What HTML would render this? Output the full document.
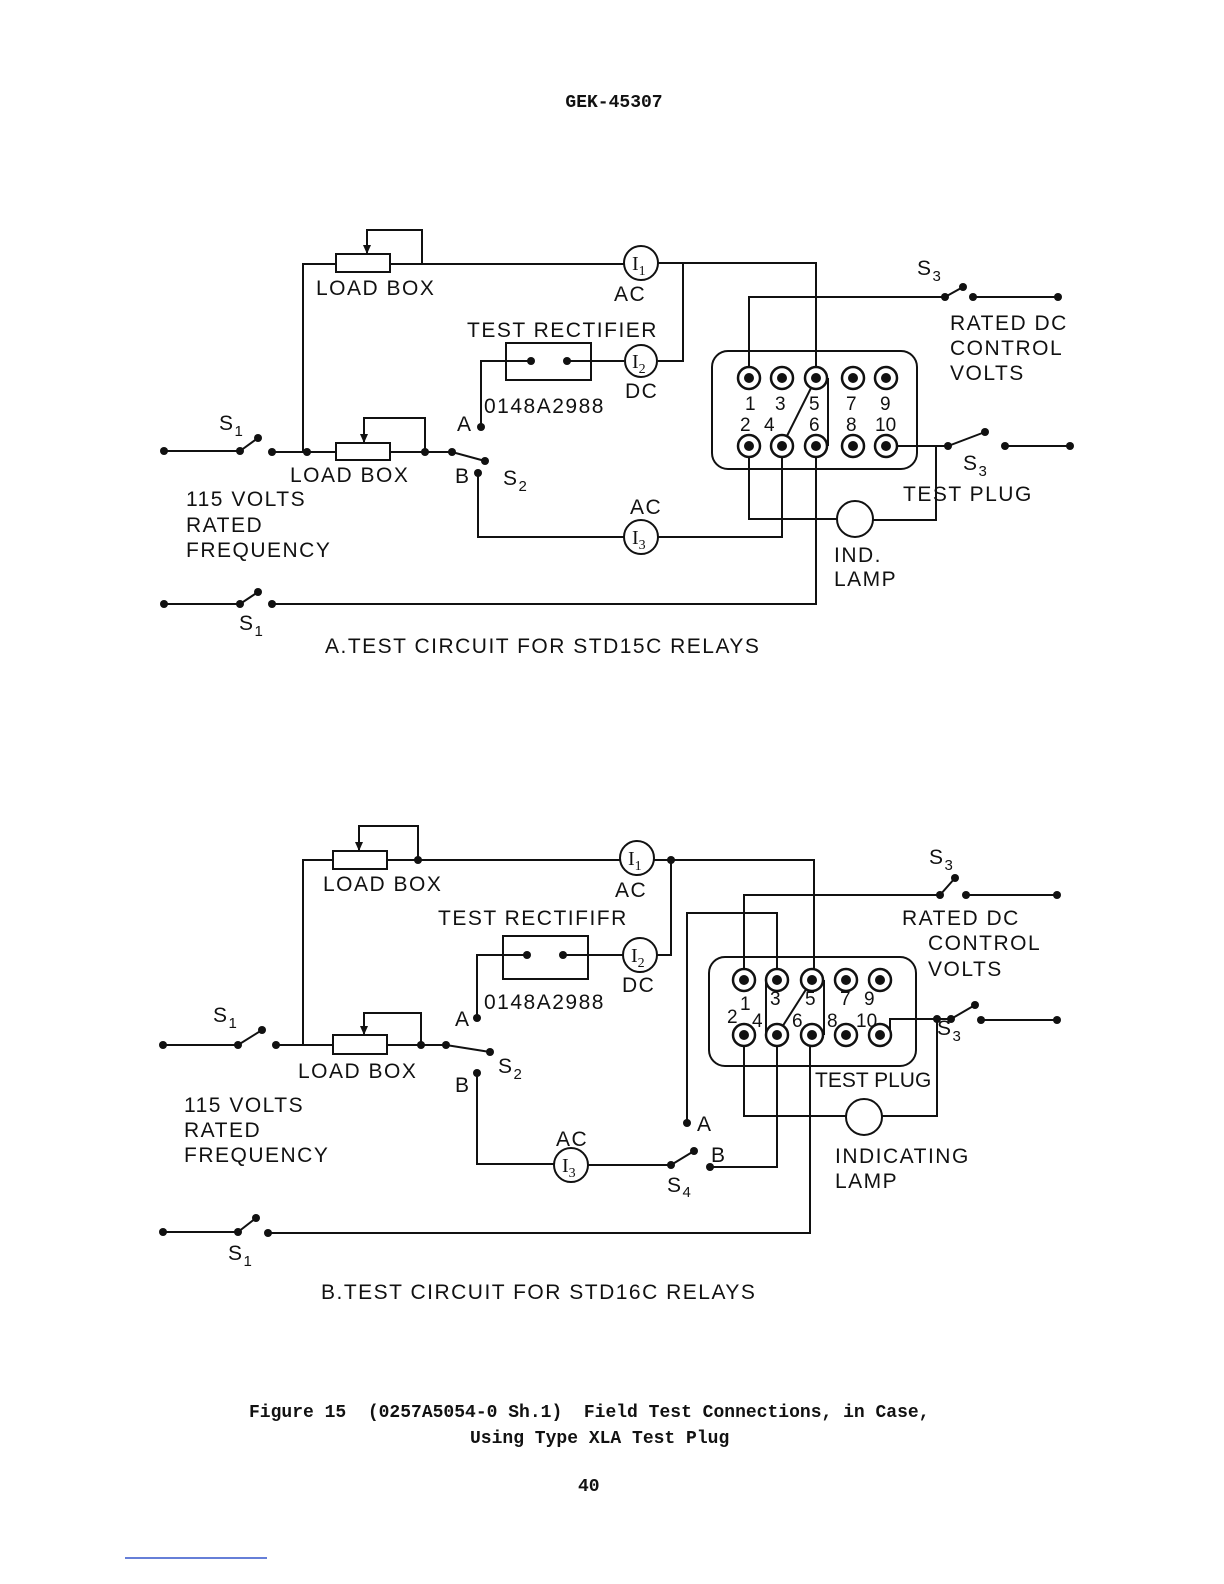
<!DOCTYPE html>
<html><head><meta charset="utf-8"><style>
body{margin:0;background:#fff}
svg{display:block}
text{font-family:"Liberation Sans",sans-serif;fill:#111}
.t{font-size:21px;letter-spacing:1.5px}
.n{font-size:19px}
.m{font-family:"Liberation Mono",monospace;font-size:18px;font-weight:bold;white-space:pre}
</style></head><body>
<svg width="1224" height="1584" viewBox="0 0 1224 1584" xmlns="http://www.w3.org/2000/svg">
<g stroke="#111" stroke-width="2" fill="none">
<polyline points="303,452 303,264 336,264"/><rect x="336" y="254" width="54" height="18"/>
<polyline points="390,264 624,264"/><polyline points="367,254 367,230 422,230 422,264"/>
<circle cx="641" cy="263" r="17"/>
<polyline points="658,263 816,263 816,378"/>
<polyline points="683,263 683,361 658,361"/>
<circle cx="641" cy="361" r="16"/>
<polyline points="624,361 567,361"/>
<rect x="506" y="343" width="85" height="37"/>
<polyline points="531,361 481,361 481,427"/>
<polyline points="164,451 240,451 258,438"/>
<polyline points="272,452 336,452"/><rect x="336" y="443" width="54" height="17"/>
<polyline points="390,452 452,452 485,461"/>
<polyline points="364,443 364,418 425,418 425,452"/>
<polyline points="478,473 478,537 624,537"/>
<circle cx="641" cy="537" r="17"/>
<polyline points="658,537 782,537 782,446"/>
<polyline points="164,604 240,604 258,592"/>
<polyline points="272,604 816,604 816,446"/>
<rect x="712" y="351" width="205" height="118" rx="16"/>
<polyline points="749,378 749,297 945,297 963,287"/>
<polyline points="973,297 1058,297"/>
<polyline points="886,446 948,446 985,432"/>
<polyline points="1005,446 1070,446"/>
<polyline points="936,446 936,520 873,520"/>
<circle cx="855" cy="519" r="18"/>
<polyline points="837,519 749,519 749,446"/>
<line x1="782" y1="446" x2="816" y2="378"/>
<line x1="828" y1="378" x2="828" y2="446"/>
<polyline points="303,1045 303,860 333,860"/><rect x="333" y="851" width="54" height="18"/>
<polyline points="387,860 620,860"/><polyline points="359,851 359,826 418,826 418,860"/>
<circle cx="637" cy="858" r="17"/>
<polyline points="654,860 814,860 814,980"/>
<polyline points="671,860 671,955 657,955"/>
<circle cx="640" cy="955" r="17"/>
<polyline points="623,955 563,955"/>
<rect x="503" y="936" width="85" height="43"/>
<polyline points="527,955 477,955 477,1018"/>
<polyline points="163,1045 238,1045 262,1030"/>
<polyline points="276,1045 333,1045"/><rect x="333" y="1035" width="54" height="19"/>
<polyline points="387,1045 446,1045 490,1052"/>
<polyline points="364,1035 364,1013 421,1013 421,1045"/>
<polyline points="477,1073 477,1164 554,1164"/>
<circle cx="571" cy="1165" r="17"/>
<polyline points="588,1165 671,1165 694,1151"/>
<polyline points="710,1167 777,1167 777,1035"/>
<polyline points="687,1123 687,913 777,913 777,980"/>
<polyline points="163,1232 238,1232 256,1218"/>
<polyline points="268,1233 810,1233 810,1035"/>
<rect x="709" y="957" width="207" height="109" rx="16"/>
<polyline points="744,980 744,895 940,895 955,878"/>
<polyline points="966,895 1057,895"/>
<polyline points="890,1035 890,1019 951,1019 975,1005"/>
<polyline points="981,1020 1057,1020"/>
<polyline points="937,1019 937,1116 882,1116"/>
<circle cx="864" cy="1117" r="18"/>
<polyline points="846,1116 744,1116 744,1035"/>
<line x1="777" y1="1035" x2="812" y2="980"/>
<line x1="766" y1="980" x2="766" y2="1035"/>
<line x1="824" y1="980" x2="824" y2="1035"/>
</g>
<g stroke="#111" stroke-width="2.5" fill="#fff">
<circle cx="749" cy="378" r="11"/><circle cx="782" cy="378" r="11"/><circle cx="816" cy="378" r="11"/><circle cx="853" cy="378" r="11"/><circle cx="886" cy="378" r="11"/>
<circle cx="749" cy="446" r="11"/><circle cx="782" cy="446" r="11"/><circle cx="816" cy="446" r="11"/><circle cx="853" cy="446" r="11"/><circle cx="886" cy="446" r="11"/>
<circle cx="744" cy="980" r="11"/><circle cx="777" cy="980" r="11"/><circle cx="812" cy="980" r="11"/><circle cx="846" cy="980" r="11"/><circle cx="880" cy="980" r="11"/>
<circle cx="744" cy="1035" r="11"/><circle cx="777" cy="1035" r="11"/><circle cx="812" cy="1035" r="11"/><circle cx="846" cy="1035" r="11"/><circle cx="880" cy="1035" r="11"/>
</g>
<g fill="#111">
<circle cx="749" cy="378" r="5"/><circle cx="782" cy="378" r="5"/><circle cx="816" cy="378" r="5"/><circle cx="853" cy="378" r="5"/><circle cx="886" cy="378" r="5"/>
<circle cx="749" cy="446" r="5"/><circle cx="782" cy="446" r="5"/><circle cx="816" cy="446" r="5"/><circle cx="853" cy="446" r="5"/><circle cx="886" cy="446" r="5"/>
<circle cx="744" cy="980" r="5"/><circle cx="777" cy="980" r="5"/><circle cx="812" cy="980" r="5"/><circle cx="846" cy="980" r="5"/><circle cx="880" cy="980" r="5"/>
<circle cx="744" cy="1035" r="5"/><circle cx="777" cy="1035" r="5"/><circle cx="812" cy="1035" r="5"/><circle cx="846" cy="1035" r="5"/><circle cx="880" cy="1035" r="5"/>
<circle cx="164" cy="451" r="4"/><circle cx="240" cy="451" r="4"/><circle cx="258" cy="438" r="4"/><circle cx="272" cy="452" r="4"/>
<circle cx="307" cy="452" r="4"/><circle cx="425" cy="452" r="4"/><circle cx="452" cy="452" r="4"/><circle cx="485" cy="461" r="4"/>
<circle cx="481" cy="427" r="4"/><circle cx="478" cy="473" r="4"/><circle cx="531" cy="361" r="4"/><circle cx="567" cy="361" r="4"/>
<circle cx="164" cy="604" r="4"/><circle cx="240" cy="604" r="4"/><circle cx="258" cy="592" r="4"/><circle cx="272" cy="604" r="4"/>
<circle cx="945" cy="297" r="4"/><circle cx="963" cy="287" r="4"/><circle cx="973" cy="297" r="4"/><circle cx="1058" cy="297" r="4"/>
<circle cx="948" cy="446" r="4"/><circle cx="985" cy="432" r="4"/><circle cx="1005" cy="446" r="4"/><circle cx="1070" cy="446" r="4"/>
<polygon points="363,245 371,245 367,254"/><polygon points="360,434 368,434 364,443"/>
<circle cx="163" cy="1045" r="4"/><circle cx="238" cy="1045" r="4"/><circle cx="262" cy="1030" r="4"/><circle cx="276" cy="1045" r="4"/>
<circle cx="421" cy="1045" r="4"/><circle cx="446" cy="1045" r="4"/><circle cx="490" cy="1052" r="4"/><circle cx="418" cy="860" r="4"/><circle cx="671" cy="860" r="4"/>
<circle cx="477" cy="1018" r="4"/><circle cx="477" cy="1073" r="4"/><circle cx="527" cy="955" r="4"/><circle cx="563" cy="955" r="4"/>
<circle cx="671" cy="1165" r="4"/><circle cx="694" cy="1151" r="4"/><circle cx="710" cy="1167" r="4"/><circle cx="687" cy="1123" r="4"/>
<circle cx="163" cy="1232" r="4"/><circle cx="238" cy="1232" r="4"/><circle cx="256" cy="1218" r="4"/><circle cx="268" cy="1233" r="4"/>
<circle cx="940" cy="895" r="4"/><circle cx="955" cy="878" r="4"/><circle cx="966" cy="895" r="4"/><circle cx="1057" cy="895" r="4"/>
<circle cx="937" cy="1019" r="4"/><circle cx="951" cy="1019" r="4"/><circle cx="975" cy="1005" r="4"/><circle cx="981" cy="1020" r="4"/><circle cx="1057" cy="1020" r="4"/>
<polygon points="355,842 363,842 359,851"/><polygon points="360,1026 368,1026 364,1035"/>
</g>
<g font-size="20">
<text x="632" y="270" style="font-family:'Liberation Serif',serif">I<tspan font-size="14" dy="5">1</tspan></text>
<text x="632" y="368" style="font-family:'Liberation Serif',serif">I<tspan font-size="14" dy="5">2</tspan></text>
<text x="632" y="544" style="font-family:'Liberation Serif',serif">I<tspan font-size="14" dy="5">3</tspan></text>
<text x="628" y="865" style="font-family:'Liberation Serif',serif">I<tspan font-size="14" dy="5">1</tspan></text>
<text x="631" y="962" style="font-family:'Liberation Serif',serif">I<tspan font-size="14" dy="5">2</tspan></text>
<text x="562" y="1172" style="font-family:'Liberation Serif',serif">I<tspan font-size="14" dy="5">3</tspan></text>
</g>
<text x="614" y="107" text-anchor="middle" class="m">GEK-45307</text>
<g class="t">
<text x="316" y="295">LOAD BOX</text>
<text x="614" y="301">AC</text>
<text x="467" y="337">TEST RECTIFIER</text>
<text x="625" y="398">DC</text>
<text x="484" y="413">0148A2988</text>
<text x="457" y="431">A</text>
<text x="455" y="483">B</text>
<text x="503" y="485">S<tspan font-size="15" dy="6">2</tspan></text>
<text x="219" y="430">S<tspan font-size="15" dy="6">1</tspan></text>
<text x="290" y="482">LOAD BOX</text>
<text x="186" y="506">115 VOLTS</text>
<text x="186" y="532">RATED</text>
<text x="186" y="557">FREQUENCY</text>
<text x="630" y="514">AC</text>
<text x="917" y="275">S<tspan font-size="15" dy="6">3</tspan></text>
<text x="950" y="330">RATED DC</text>
<text x="950" y="355">CONTROL</text>
<text x="950" y="380">VOLTS</text>
<text x="963" y="470">S<tspan font-size="15" dy="6">3</tspan></text>
<text x="903" y="501">TEST PLUG</text>
<text x="834" y="562">IND.</text>
<text x="834" y="586">LAMP</text>
<text x="239" y="630">S<tspan font-size="15" dy="6">1</tspan></text>
<text x="325" y="653">A.TEST CIRCUIT FOR STD15C RELAYS</text>
</g>
<g class="n">
<text x="745" y="410">1</text><text x="775" y="410">3</text><text x="809" y="410">5</text><text x="846" y="410">7</text><text x="880" y="410">9</text>
<text x="740" y="431">2</text><text x="764" y="431">4</text><text x="809" y="431">6</text><text x="846" y="431">8</text><text x="875" y="431">10</text>
<text x="740" y="1010">1</text><text x="770" y="1005">3</text><text x="805" y="1005">5</text><text x="840" y="1005">7</text><text x="864" y="1005">9</text>
<text x="727" y="1023">2</text><text x="752" y="1027">4</text><text x="792" y="1027">6</text><text x="827" y="1027">8</text><text x="856" y="1027">10</text>
</g>
<g class="t">
<text x="323" y="891">LOAD BOX</text>
<text x="615" y="897">AC</text>
<text x="438" y="925">TEST RECTIFIFR</text>
<text x="622" y="992">DC</text>
<text x="484" y="1009">0148A2988</text>
<text x="455" y="1026">A</text>
<text x="498" y="1073">S<tspan font-size="15" dy="6">2</tspan></text>
<text x="455" y="1092">B</text>
<text x="213" y="1022">S<tspan font-size="15" dy="6">1</tspan></text>
<text x="298" y="1078">LOAD BOX</text>
<text x="184" y="1112">115 VOLTS</text>
<text x="184" y="1137">RATED</text>
<text x="184" y="1162">FREQUENCY</text>
<text x="556" y="1146">AC</text>
<text x="697" y="1131">A</text>
<text x="711" y="1162">B</text>
<text x="667" y="1192">S<tspan font-size="15" dy="5">4</tspan></text>
<text x="929" y="864">S<tspan font-size="15" dy="6">3</tspan></text>
<text x="902" y="925">RATED DC</text>
<text x="928" y="950">CONTROL</text>
<text x="928" y="976">VOLTS</text>
<text x="937" y="1035">S<tspan font-size="15" dy="6">3</tspan></text>
<text x="815" y="1087" style="letter-spacing:0">TEST PLUG</text>
<text x="835" y="1163">INDICATING</text>
<text x="835" y="1188">LAMP</text>
<text x="228" y="1260">S<tspan font-size="15" dy="6">1</tspan></text>
<text x="321" y="1299">B.TEST CIRCUIT FOR STD16C RELAYS</text>
</g>
<text x="249" y="1417" class="m" xml:space="preserve">Figure 15  (0257A5054-0 Sh.1)  Field Test Connections, in Case,</text>
<text x="470" y="1443" class="m">Using Type XLA Test Plug</text>
<text x="578" y="1491" class="m">40</text>
<line x1="125" y1="1558" x2="267" y2="1558" stroke="#3355cc" stroke-width="1.5"/>
</svg>
</body></html>
